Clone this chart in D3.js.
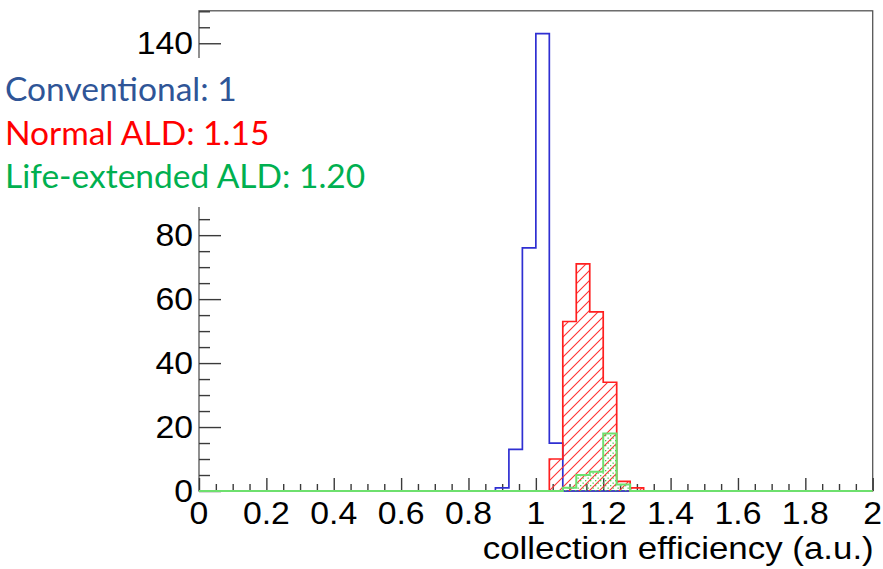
<!DOCTYPE html>
<html>
<head>
<meta charset="utf-8">
<script src="https://cdn.jsdelivr.net/npm/d3@7"></script>
<style>
  html, body { margin: 0; padding: 0; background: #fff; }
  svg { display: block; }
</style>
</head>
<body>
<svg id="chart" width="883" height="569"></svg>
<script>
// Histogram bins (lower edges, width 0.04) and entries per bin
const binWidth = 0.04;
const conventionalEdges = [0.88, 0.92, 0.96, 1.00, 1.04];
const conventionalCounts = [1, 13, 76, 143, 15];
const normalEdges = [1.04, 1.08, 1.12, 1.16, 1.20, 1.24, 1.28];
const normalCounts = [10, 53, 71, 56, 34, 3, 1];
const extendedEdges = [1.08, 1.12, 1.16, 1.20, 1.24];
const extendedCounts = [1, 5, 6, 18, 2];

// Axis ticks and labels
const xMajorTicks = [0, 0.2, 0.4, 0.6, 0.8, 1, 1.2, 1.4, 1.6, 1.8, 2];
const xLabels = ["0", "0.2", "0.4", "0.6", "0.8", "1", "1.2", "1.4", "1.6", "1.8", "2"];
const yMajorTicks = [0, 20, 40, 60, 80, 100, 120, 140];
// labels that stay visible beside the legend box
const yLabelTicks = [0, 20, 40, 60, 80, 140];
const yLabels = ["0", "20", "40", "60", "80", "140"];
const xTitle = "collection efficiency (a.u.)";

// Legend (means of each distribution)
const legendLabels = ["Conventional: 1", "Normal ALD: 1.15", "Life-extended ALD: 1.20"];
const legendColors = ["#2F5597", "#FF0000", "#00B050"];

const xDomain = [0, 2];
const yDomain = [0, 150.15];

const svg = d3.select("#chart");
const plotLeft = 199, plotRight = 872.7, plotBottom = 491, plotTop = 10.8;

const x = d3.scaleLinear().domain(xDomain).range([plotLeft, plotRight]);
const y = d3.scaleLinear().domain(yDomain).range([plotBottom, plotTop]);

// Hatch and dot fill patterns
const defs = svg.append("defs");
const hatch = defs.append("pattern")
  .attr("id", "hatchRed")
  .attr("patternUnits", "userSpaceOnUse")
  .attr("width", 10).attr("height", 10);
[[-2, 2, 2, -2], [0, 10, 10, 0], [8, 12, 12, 8]].forEach(s => {
  hatch.append("line")
    .attr("x1", s[0]).attr("y1", s[1]).attr("x2", s[2]).attr("y2", s[3])
    .style("stroke", "#ff3030").style("stroke-width", 1.1);
});
const dots = defs.append("pattern")
  .attr("id", "dotsGreen")
  .attr("patternUnits", "userSpaceOnUse")
  .attr("width", 5).attr("height", 5);
dots.append("rect").attr("x", 0).attr("y", 0).attr("width", 1.3).attr("height", 1.3).style("fill", "#4ccc4c");
dots.append("rect").attr("x", 2.5).attr("y", 2.5).attr("width", 1.3).attr("height", 1.3).style("fill", "#4ccc4c");

// Frame and axes
const axisColor = "#3a3a3a";
svg.append("rect")
  .attr("x", x(xDomain[0])).attr("y", y(yDomain[1]))
  .attr("width", x(xDomain[1]) - x(xDomain[0]))
  .attr("height", y(0) - y(yDomain[1]))
  .attr("fill", "none").attr("stroke", "#555").attr("stroke-width", 1.3);

function styleAxis(g) {
  g.select(".domain").remove();
  g.selectAll(".tick line").attr("stroke", axisColor).attr("stroke-width", 1.4);
  g.selectAll(".tick text").remove();
}

const xMinor = d3.range(0, 41).map(i => i * 0.05).filter(v => !xMajorTicks.some(m => Math.abs(m - v) < 1e-9));
svg.append("g").attr("transform", `translate(0,${y(0)})`)
  .call(d3.axisTop(x).tickValues(xMajorTicks).tickSize(13)).call(styleAxis);
svg.append("g").attr("transform", `translate(0,${y(0)})`)
  .call(d3.axisTop(x).tickValues(xMinor).tickSize(7)).call(styleAxis);

const yMinor = d3.range(0, 31).map(i => i * 5).filter(v => v % 20 !== 0);
svg.append("g").attr("transform", `translate(${x(0)},0)`)
  .call(d3.axisRight(y).tickValues(yMajorTicks).tickSize(22)).call(styleAxis);
svg.append("g").attr("transform", `translate(${x(0)},0)`)
  .call(d3.axisRight(y).tickValues(yMinor).tickSize(11)).call(styleAxis);

// Tick labels (slightly wide Helvetica-style text)
const labelFont = "'Liberation Sans', Arial, Helvetica, sans-serif";
const stretch = 1.09;
svg.append("g").selectAll("text").data(xMajorTicks).join("text")
  .attr("transform", d => `translate(${x(d)},${y(0) + 33}) scale(${stretch},1)`)
  .attr("text-anchor", "middle")
  .attr("font-family", labelFont).attr("font-size", 31).attr("fill", "#000")
  .text((d, i) => xLabels[i]);
svg.append("g").selectAll("text").data(yLabelTicks).join("text")
  .attr("transform", d => `translate(${x(0) - 6},${y(d) + 11}) scale(${stretch},1)`)
  .attr("text-anchor", "end")
  .attr("font-family", labelFont).attr("font-size", 31).attr("fill", "#000")
  .text((d, i) => yLabels[i]);
svg.append("text")
  .attr("transform", `translate(${x(2) + 1},559) scale(${stretch},1)`)
  .attr("text-anchor", "end")
  .attr("font-family", labelFont).attr("font-size", 32).attr("fill", "#000")
  .text(xTitle);

// Histogram outline points from bin edges and counts
function histPoints(edges, counts) {
  const pts = [[xDomain[0], 0]];
  edges.forEach((e, i) => {
    pts.push([e, pts[pts.length - 1][1]]);
    pts.push([e, counts[i]]);
    pts.push([e + binWidth, counts[i]]);
  });
  pts.push([edges[edges.length - 1] + binWidth, 0]);
  pts.push([xDomain[1], 0]);
  return pts;
}

const line = d3.line().x(d => x(d[0])).y(d => y(d[1]));
const area = d3.area().x(d => x(d[0])).y0(y(0)).y1(d => y(d[1]));

function drawHist(edges, counts, stroke, width, fill) {
  const pts = histPoints(edges, counts);
  if (fill) {
    svg.append("path").datum(pts).attr("d", area).style("fill", fill).style("stroke", "none");
  }
  svg.append("path").datum(pts).attr("d", line)
    .attr("fill", "none").attr("stroke", stroke).attr("stroke-width", width)
    .attr("stroke-linejoin", "miter");
}

drawHist(conventionalEdges, conventionalCounts, "#2f2fd2", 1.7, null);
drawHist(normalEdges, normalCounts, "#ff1f1f", 1.7, "url(#hatchRed)");
drawHist(extendedEdges, extendedCounts, "#6ee06e", 2, "url(#dotsGreen)");

// Legend text box
svg.append("rect")
  .attr("x", 0).attr("y", 58).attr("width", 370).attr("height", 149)
  .attr("fill", "#fff");
const legendBaselines = [101, 144.5, 188];
svg.append("g").selectAll("text").data(legendLabels).join("text")
  .attr("x", 5)
  .attr("y", (d, i) => legendBaselines[i])
  .attr("font-family", "Lato, 'Open Sans', sans-serif")
  .attr("font-size", 33.5)
  .attr("fill", (d, i) => legendColors[i])
  .text(d => d);
</script>
</body>
</html>
